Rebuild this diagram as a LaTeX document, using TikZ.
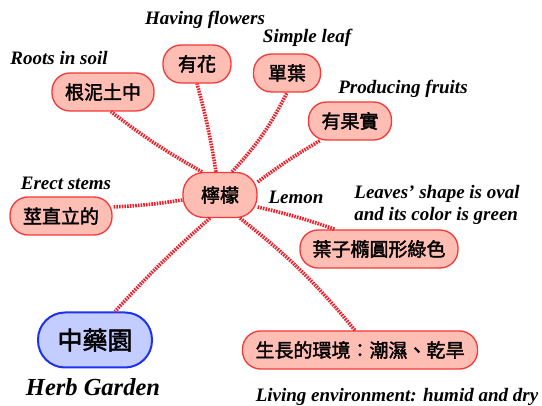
\documentclass[tikz,border=0pt]{standalone}
\usepackage{fontspec}
\setmainfont{Liberation Serif}
\newfontfamily\cjk{Noto Sans CJK TC}[FakeBold=2]
\definecolor{boxred}{RGB}{245,55,55}
\definecolor{boxpink}{RGB}{255,190,180}
\definecolor{boxblue}{RGB}{30,50,240}
\definecolor{fillblue}{RGB}{195,205,255}
\definecolor{linered}{RGB}{240,30,40}
\tikzset{
  leaf/.style={rectangle, rounded corners=18pt, draw=boxred, fill=boxpink, line width=1.3pt,
    minimum height=38pt, inner xsep=4pt, font=\cjk\fontsize{19}{19}\selectfont},
  root/.style={rectangle, rounded corners=27pt, draw=boxblue, fill=fillblue, line width=2pt,
    minimum height=55pt, minimum width=114pt, font=\cjk\fontsize{25}{25}\selectfont},
  lbl/.style={font=\bfseries\itshape\fontsize{19}{22}\selectfont, inner sep=0pt},
  conn/.style={draw=linered, line width=3.6pt, dash pattern=on 1.6pt off 1.1pt}
}
\begin{document}
\begin{tikzpicture}[x=1pt,y=-1pt]
\useasboundingbox (0,0) rectangle (542,406);
% connectors (behind nodes)
\node[leaf, minimum width=74pt, minimum height=45pt, rounded corners=21pt] (lemon) at (220,195) {檸檬};
\node[leaf, minimum width=102pt] (roots) at (103,92) {根泥土中};
\node[leaf, minimum width=68pt] (flower) at (197,64) {有花};
\node[leaf, minimum width=67pt] (simple) at (287,73) {單葉};
\node[leaf, minimum width=83pt] (fruit) at (350,121) {有果實};
\node[leaf, minimum width=102pt] (stem) at (61,216) {莖直立的};
\node[leaf, minimum width=158pt] (leafshape) at (379,249) {葉子橢圓形綠色};
\node[leaf, minimum width=235pt] (env) at (360,350) {生長的環境：潮濕、乾旱};
\node[root] (herb) at (95,340) {中藥園};
% labels
\node[lbl] (lroots) at (59,58) {Roots in soil};
\node[lbl] (lflower) at (205,20) {Having flowers};
\node[lbl] (lsimple) at (307,38) {Simple leaf};
\node[lbl] (lfruit) at (403,89) {Producing fruits};
\node[lbl] (lstem) at (66,183) {Erect stems};
\node[lbl] (llemon) at (296,197) {Lemon};
\node[lbl, align=left] (lleaf) at (437,205) {Leaves’ shape is oval\\and its color is green};
\node[lbl, font=\bfseries\itshape\fontsize{24.5}{26}\selectfont] (lherb) at (93,387) {Herb Garden};
\node[lbl] (lenv) at (397,397) {Living environment: humid and dry};
% connectors
\draw[conn] ([yshift=-5pt]lemon.west) to[bend left=3] ([yshift=9pt]stem.east);
\draw[conn] ([xshift=-18pt]lemon.north) to[bend left=4] ([xshift=8pt]roots.south);
\draw[conn] ([xshift=-4pt]lemon.north) to[bend right=3] (flower.south);
\draw[conn] ([xshift=12pt]lemon.north) to[bend right=8] (simple.south);
\draw[conn] ([yshift=13pt]lemon.east) to[bend left=3] ([xshift=-30pt]fruit.south);
\draw[conn] ([yshift=-12pt]lemon.east) to[bend left=3] ([xshift=-44pt]leafshape.north);
\draw[conn] ([xshift=20pt]lemon.south) to[bend left=6] ([xshift=-5pt]env.north);
\draw[conn] ([xshift=-10pt]lemon.south) to[bend right=3] ([xshift=20pt]herb.north);
\end{tikzpicture}
\end{document}
